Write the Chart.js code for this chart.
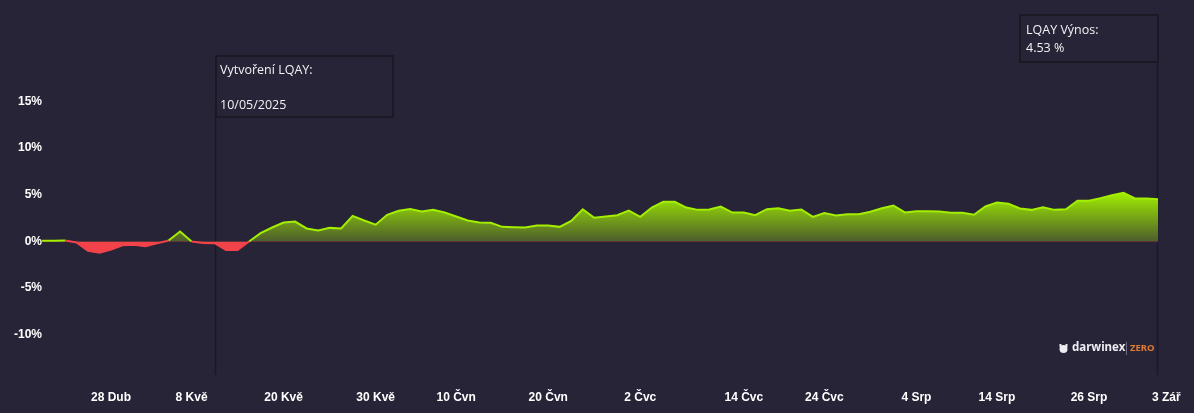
<!DOCTYPE html>
<html>
<head>
<meta charset="utf-8">
<script src="https://cdn.jsdelivr.net/npm/chart.js@4.4.0/dist/chart.umd.min.js"></script>
<style>
  html, body { margin: 0; padding: 0; background: #262436; }
  #wrap { width: 1194px; height: 413px; position: relative; }
</style>
</head>
<body>
<div id="wrap"><canvas id="returnChart"></canvas></div>
<script>
// LQAY return, % (one value per trading day, 21 Apr - 3 Sep)
const returns = [
  0.07, 0.07, 0.1, -0.1, -1.0, -1.2, -0.85, -0.4, -0.35, -0.5,
  -0.2, 0.1, 1.07, 0, -0.15, -0.18, -0.9, -0.9, 0, 0.9,
  1.5, 2.03, 2.14, 1.4, 1.18, 1.46, 1.4, 2.75, 2.25, 1.8,
  2.86, 3.3, 3.48, 3.21, 3.39, 3.1, 2.68, 2.25, 2.04, 2.0,
  1.57, 1.54, 1.5, 1.71, 1.71, 1.57, 2.21, 3.46, 2.54, 2.68,
  2.82, 3.32, 2.64, 3.64, 4.25, 4.25, 3.64, 3.39, 3.43, 3.75,
  3.1, 3.1, 2.82, 3.46, 3.57, 3.3, 3.43, 2.64, 3.04, 2.79,
  2.93, 2.93, 3.18, 3.57, 3.86, 3.11, 3.25, 3.25, 3.21, 3.07,
  3.07, 2.86, 3.75, 4.18, 4.04, 3.54, 3.39, 3.68, 3.39, 3.46,
  4.36, 4.36, 4.64, 4.96, 5.21, 4.61, 4.61, 4.53
];

// x axis: which day gets a label
const tickIndex = [6, 13, 21, 29, 36, 44, 52, 61, 68, 76, 83, 91, 97];
const tickText = ["28 Dub", "8 Kvě", "20 Kvě", "30 Kvě", "10 Čvn", "20 Čvn",
  "2 Čvc", "14 Čvc", "24 Čvc", "4 Srp", "14 Srp", "26 Srp", "3 Zář"];

// y axis tick labels
const yTicks = [-10, -5, 0, 5, 10, 15];

const createdIndex = 15;
const createdText = ["Vytvoření LQAY:", "10/05/2025"];
const returnText = ["LQAY Výnos:", "4.53 %"];

const BG = "#262436";
const LIME = "#a4ef00";
const RED = "#f2424a";
const EDGE = "#1b1924";

const labels = returns.map((v, i) => i);

// vertical markers, behind the area
const markerLines = {
  id: "markerLines",
  beforeDatasetsDraw(chart) {
    const { ctx, chartArea, scales } = chart;
    ctx.save();
    ctx.strokeStyle = EDGE;
    ctx.lineWidth = 1.5;
    const x1 = Math.round(scales.x.getPixelForValue(createdIndex)) + 0.5;
    const x2 = Math.round(scales.x.getPixelForValue(returns.length - 1)) - 0.5;
    ctx.beginPath();
    ctx.moveTo(x1, 110);
    ctx.lineTo(x1, chartArea.bottom);
    ctx.moveTo(x2, 55);
    ctx.lineTo(x2, chartArea.bottom);
    ctx.stroke();
    ctx.restore();
  },
};

// info boxes + logo
const infoBoxes = {
  id: "infoBoxes",
  afterDraw(chart) {
    const { ctx, scales } = chart;
    const x1 = Math.round(scales.x.getPixelForValue(createdIndex));
    const x2 = Math.round(scales.x.getPixelForValue(returns.length - 1));

    ctx.save();
    ctx.lineWidth = 2;
    ctx.strokeStyle = EDGE;
    ctx.fillStyle = BG;

    ctx.fillRect(x1 + 1, 56, 177, 61);
    ctx.strokeRect(x1 + 1, 56, 177, 61);
    ctx.fillRect(x2 - 138, 15, 138, 47);
    ctx.strokeRect(x2 - 138, 15, 138, 47);

    ctx.fillStyle = "#f2f2f6";
    ctx.font = '12.5px "Open Sans"';
    ctx.textBaseline = "alphabetic";
    ctx.textAlign = "left";
    ctx.fillText(createdText[0], x1 + 5, 73.5);
    ctx.fillText(createdText[1], x1 + 5, 108.5);
    ctx.fillText(returnText[0], x2 - 132, 34);
    ctx.fillText(returnText[1], x2 - 132, 52);

    // darwinex | ZERO
    ctx.fillStyle = "#ececf2";
    ctx.beginPath();
    ctx.arc(1063.5, 349, 4, 0, Math.PI * 2);
    ctx.fill();
    ctx.fillRect(1059.5, 344, 2, 3);
    ctx.fillRect(1065.5, 344, 2, 3);
    ctx.textBaseline = "middle";
    ctx.font = 'bold 11.5px "Noto Sans"';
    ctx.fillText("darwinex", 1072, 348);
    ctx.fillStyle = "#6e6c80";
    ctx.fillRect(1126, 342, 1, 13);
    ctx.fillStyle = "#e07b34";
    ctx.font = 'bold 9.5px "Noto Sans"';
    ctx.fillText("ZERO", 1130, 348.5);
    ctx.restore();
  },
};

const ctx = document.getElementById("returnChart").getContext("2d");
new Chart(ctx, {
  type: "line",
  data: {
    labels: labels,
    datasets: [
      {
        label: "LQAY",
        data: returns,
        borderColor: LIME,
        borderWidth: 2,
        pointRadius: 0,
        tension: 0,
        fill: { target: "origin", below: RED },
        backgroundColor: (context) => {
          const { chart } = context;
          const area = chart.chartArea;
          if (!area) return LIME;
          const y = chart.scales.y;
          const g = chart.ctx.createLinearGradient(0, y.getPixelForValue(5.3), 0, y.getPixelForValue(0));
          g.addColorStop(0, "#a2f000");
          g.addColorStop(1, "#4d5d2c");
          return g;
        },
        segment: {
          borderColor: (c) => (c.p0.parsed.y < 0 || c.p1.parsed.y < 0 ? RED : LIME),
        },
      },
    ],
  },
  options: {
    responsive: true,
    maintainAspectRatio: false,
    animation: false,
    layout: { padding: { top: 10, right: 36, left: 0, bottom: 0 } },
    plugins: {
      legend: { display: false },
      tooltip: { enabled: false },
    },
    scales: {
      x: {
        grid: { display: false, drawTicks: false },
        border: { display: false },
        afterFit: (scale) => {
          scale.height = 38;
          scale.paddingLeft = 0;
          scale.paddingRight = 0;
        },
        ticks: {
          autoSkip: false,
          maxRotation: 0,
          padding: 15,
          color: "#ffffff",
          font: { family: "Liberation Sans", size: 12, weight: "bold" },
          callback: (value, index) => {
            const k = tickIndex.indexOf(index);
            if (k < 0) return "";
            // last label sits a little right of the final point
            return k === tickText.length - 1 ? "     " + tickText[k] : tickText[k];
          },
        },
      },
      y: {
        min: -14.3,
        max: 24.8,
        grid: { display: false, drawTicks: false },
        border: { display: false },
        afterFit: (scale) => { scale.width = 42; },
        ticks: {
          stepSize: 5,
          padding: 0,
          color: "#ffffff",
          font: { family: "Liberation Sans", size: 12, weight: "bold" },
          callback: (value) => (yTicks.includes(value) ? value + "%" : ""),
        },
      },
    },
  },
  plugins: [markerLines, infoBoxes],
});
</script>
</body>
</html>
